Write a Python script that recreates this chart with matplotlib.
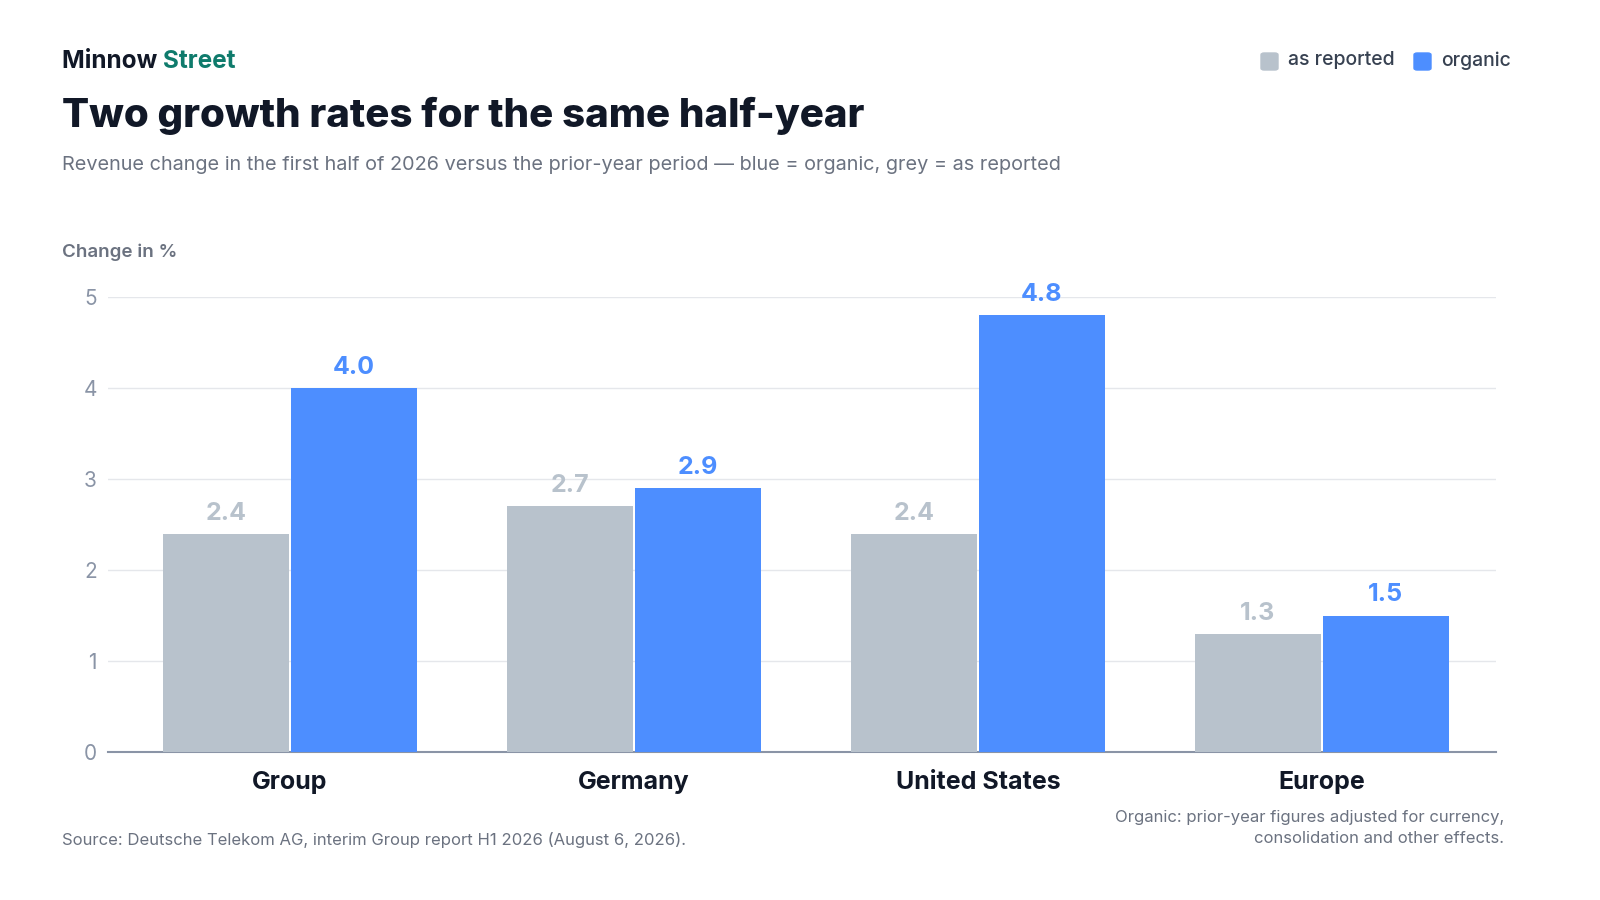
import matplotlib
matplotlib.use("Agg")
import matplotlib.pyplot as plt
import numpy as np

plt.rcParams['font.family'] = ['Inter', 'DejaVu Sans']

categories = ["Group", "Germany", "United States", "Europe"]
reported = [2.4, 2.7, 2.4, 1.3]
organic = [4.0, 2.9, 4.8, 1.5]

grey = "#B8C2CC"
blue = "#4D8EFF"
dark = "#111827"
muted = "#6B7280"

fig = plt.figure(figsize=(16, 9), dpi=100)
ax = fig.add_axes([0.0675, 0.1644, 0.8675, 0.5056])

x = np.arange(len(categories))
w = 0.366
gap = 0.003
ax.bar(x - w/2 - gap, reported, w, color=grey, zorder=3)
ax.bar(x + w/2 + gap, organic, w, color=blue, zorder=3)
for xi, r, o in zip(x, reported, organic):
    ax.text(xi - w/2 - gap, r + 0.1, f"{r:.1f}", ha="center", va="bottom",
            fontsize=18, fontweight="bold", color=grey)
    ax.text(xi + w/2 + gap, o + 0.1, f"{o:.1f}", ha="center", va="bottom",
            fontsize=18, fontweight="bold", color=blue)

ax.set_xlim(-0.529, 3.506)
ax.set_ylim(0, 5)
ax.set_yticks(range(6))
ax.set_xticks(x)
ax.set_xticklabels(categories, fontsize=18, fontweight="bold", color=dark)
ax.tick_params(axis="x", length=0, pad=14)
ax.tick_params(axis="y", length=0, pad=8, labelsize=15, labelcolor="#8A94A6")
ax.grid(axis="y", color="#E5E7EB", lw=1, zorder=0)
for s in ["top", "right", "left"]:
    ax.spines[s].set_visible(False)
ax.spines["bottom"].set_color("#8A94A6")
ax.spines["bottom"].set_linewidth(1.5)

fig.text(0.039, 0.72, "Change in %", fontsize=13.5, color=muted, fontweight="semibold", va="center")

t = fig.text(0.039, 0.932, "Minnow ", fontsize=17.5, fontweight="bold", color=dark, va="center")
fig.canvas.draw()
bb = t.get_window_extent()
fig.text(bb.x1 / 1600, 0.932, "Street", fontsize=17.5, fontweight="bold", color="#0F7B6C", va="center")

fig.text(0.039, 0.871, "Two growth rates for the same half-year", fontsize=29,
         fontweight="heavy", color=dark, va="center")
fig.text(0.039, 0.817, "Revenue change in the first half of 2026 versus the prior-year period \u2014 blue = organic, grey = as reported",
         fontsize=14.3, color=muted, va="center")

# legend
fig.patches.append(matplotlib.patches.FancyBboxPatch((1261/1600, 830/900), 17/1600, 17/900,
                   boxstyle="round,pad=0,rounding_size=0.002", transform=fig.transFigure, color=grey))
fig.text(1288/1600, 0.933, "as reported", fontsize=14, fontweight="medium", color="#374151", va="center")
fig.patches.append(matplotlib.patches.FancyBboxPatch((1414/1600, 830/900), 17/1600, 17/900,
                   boxstyle="round,pad=0,rounding_size=0.002", transform=fig.transFigure, color=blue))
fig.text(1441/1600, 0.933, "organic", fontsize=14, fontweight="medium", color="#374151", va="center")

fig.text(0.039, 0.067, "Source: Deutsche Telekom AG, interim Group report H1 2026 (August 6, 2026).",
         fontsize=12, color=muted, va="center")
fig.text(0.94, 0.08, "Organic: prior-year figures adjusted for currency,\nconsolidation and other effects.",
         fontsize=12, color=muted, ha="right", va="center", linespacing=1.5)

fig.savefig("out.png", dpi=100)
